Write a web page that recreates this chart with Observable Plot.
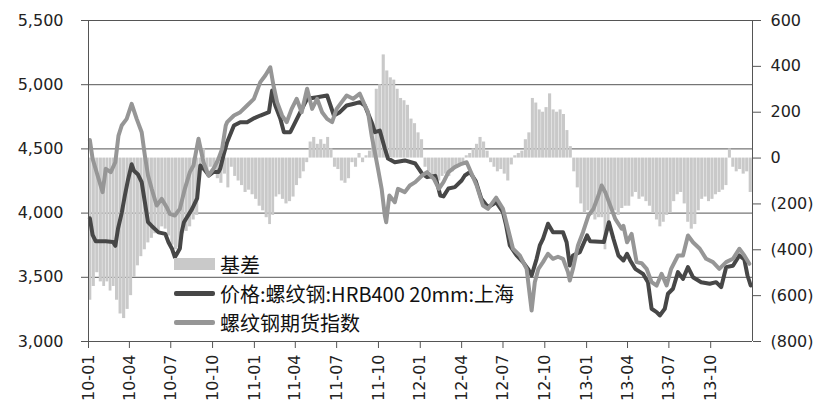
<!DOCTYPE html>
<html>
<head>
<meta charset="utf-8">
<script src="https://cdn.jsdelivr.net/npm/d3@7"></script>
<script src="https://cdn.jsdelivr.net/npm/@observablehq/plot@0.6"></script>
<style>
  html, body { margin: 0; padding: 0; background: #fff; }
  #wrap { position: relative; width: 828px; height: 419px; }
  #legend { position: absolute; left: 0; top: 0; font-family: "Noto Sans CJK SC", "DejaVu Sans", sans-serif; font-size: 20px; color: #111; }
  .row { position: absolute; left: 174px; height: 24px; display: flex; align-items: center; white-space: nowrap; }
  .sw { width: 41px; margin-right: 5px; }
</style>
</head>
<body>
<div id="wrap"><div id="legend"></div></div>
<script>
// ---- Data ----
const priceDates = ["2010-01-04","2010-01-10","2010-01-17","2010-02-08","2010-02-24","2010-03-01","2010-03-07","2010-03-15","2010-03-22","2010-03-29","2010-04-06","2010-04-11","2010-04-20","2010-04-28","2010-05-05","2010-05-12","2010-05-20","2010-06-04","2010-06-19","2010-06-26","2010-07-04","2010-07-10","2010-07-14","2010-07-21","2010-07-25","2010-07-30","2010-08-17","2010-08-28","2010-09-04","2010-09-13","2010-09-23","2010-10-03","2010-10-14","2010-10-18","2010-10-25","2010-11-02","2010-11-17","2010-12-01","2010-12-16","2011-01-01","2011-01-14","2011-02-02","2011-02-09","2011-02-16","2011-02-27","2011-03-07","2011-03-21","2011-04-01","2011-04-12","2011-04-27","2011-05-19","2011-06-10","2011-06-25","2011-07-08","2011-07-23","2011-08-06","2011-08-21","2011-09-01","2011-09-16","2011-09-23","2011-10-04","2011-10-15","2011-10-22","2011-11-06","2011-11-28","2011-12-21","2012-01-05","2012-01-16","2012-02-03","2012-02-14","2012-02-21","2012-03-03","2012-03-17","2012-04-01","2012-04-08","2012-04-19","2012-05-02","2012-05-14","2012-05-29","2012-06-16","2012-07-01","2012-07-08","2012-07-16","2012-07-31","2012-08-14","2012-08-25","2012-09-02","2012-09-13","2012-09-20","2012-09-27","2012-10-08","2012-10-19","2012-11-10","2012-11-18","2012-11-25","2012-12-02","2012-12-17","2013-01-02","2013-01-09","2013-02-08","2013-02-19","2013-03-01","2013-03-12","2013-03-23","2013-03-31","2013-04-07","2013-04-18","2013-05-05","2013-05-16","2013-05-24","2013-06-04","2013-06-11","2013-06-22","2013-06-29","2013-07-10","2013-07-21","2013-08-01","2013-08-12","2013-08-23","2013-09-10","2013-09-29","2013-10-13","2013-10-24","2013-11-04","2013-11-19","2013-12-03","2013-12-14","2013-12-21","2013-12-28"];
const priceValues = [3960,3830,3780,3780,3775,3745,3880,4000,4137,4260,4380,4330,4300,4241,4085,3929,3900,3850,3838,3773,3720,3657,3680,3724,3850,3929,4033,4114,4371,4340,4293,4320,4320,4347,4450,4552,4682,4708,4708,4740,4760,4786,4955,4838,4737,4630,4630,4708,4786,4890,4903,4916,4760,4786,4838,4850,4864,4838,4708,4630,4643,4503,4425,4396,4410,4386,4308,4280,4290,4137,4130,4192,4202,4254,4293,4319,4250,4114,4046,4085,4007,3903,3748,3670,3618,3566,3514,3644,3748,3800,3917,3851,3851,3773,3592,3670,3696,3826,3780,3775,3929,3800,3670,3631,3683,3631,3566,3527,3462,3255,3229,3203,3255,3372,3411,3540,3488,3579,3501,3462,3450,3462,3423,3579,3590,3670,3640,3514,3436];

const futuresDates = ["2010-01-04","2010-01-10","2010-01-21","2010-02-01","2010-02-08","2010-02-19","2010-03-01","2010-03-08","2010-03-15","2010-03-26","2010-04-06","2010-04-17","2010-04-28","2010-05-05","2010-05-12","2010-05-20","2010-05-31","2010-06-11","2010-06-22","2010-06-29","2010-07-10","2010-07-21","2010-08-01","2010-08-12","2010-08-20","2010-08-31","2010-09-11","2010-09-22","2010-10-03","2010-10-14","2010-10-22","2010-10-30","2010-11-02","2010-11-17","2010-12-01","2010-12-16","2010-12-31","2011-01-14","2011-01-25","2011-02-05","2011-02-12","2011-02-20","2011-03-03","2011-03-13","2011-03-24","2011-04-04","2011-04-15","2011-04-27","2011-05-08","2011-05-19","2011-05-30","2011-06-10","2011-06-21","2011-07-01","2011-07-12","2011-07-23","2011-08-06","2011-08-21","2011-09-01","2011-09-08","2011-09-16","2011-09-23","2011-09-30","2011-10-08","2011-10-15","2011-10-18","2011-10-25","2011-11-06","2011-11-13","2011-11-28","2011-12-09","2011-12-21","2012-01-05","2012-01-16","2012-01-31","2012-02-11","2012-02-21","2012-03-03","2012-03-17","2012-04-01","2012-04-12","2012-04-23","2012-05-04","2012-05-18","2012-05-29","2012-06-16","2012-07-01","2012-07-12","2012-07-23","2012-08-07","2012-08-22","2012-08-29","2012-09-02","2012-09-09","2012-09-17","2012-09-27","2012-10-08","2012-10-19","2012-10-30","2012-11-10","2012-11-21","2012-11-25","2012-12-02","2012-12-13","2012-12-24","2013-01-05","2013-01-16","2013-01-27","2013-02-03","2013-02-11","2013-02-22","2013-03-05","2013-03-19","2013-03-23","2013-03-31","2013-04-10","2013-04-21","2013-05-02","2013-05-13","2013-05-24","2013-06-04","2013-06-15","2013-06-26","2013-07-06","2013-07-21","2013-08-01","2013-08-12","2013-08-23","2013-09-07","2013-09-21","2013-10-06","2013-10-20","2013-11-04","2013-11-19","2013-12-03","2013-12-14","2013-12-25"];
const futuresValues = [4570,4423,4293,4163,4345,4319,4396,4604,4682,4734,4851,4734,4630,4449,4293,4189,4059,4111,4046,3994,3981,4033,4189,4319,4371,4579,4396,4293,4345,4423,4500,4682,4708,4760,4786,4838,4890,5020,5072,5136,4994,4864,4760,4708,4812,4890,4786,4968,4812,4890,4786,4734,4708,4812,4864,4916,4890,4930,4840,4786,4604,4474,4345,4189,3981,3929,4137,4085,4189,4163,4215,4241,4293,4319,4267,4189,4241,4319,4358,4384,4396,4306,4215,4059,4033,4120,4033,3878,3722,3670,3566,3358,3241,3462,3566,3618,3683,3644,3660,3644,3540,3475,3566,3748,3851,3981,4033,4137,4215,4163,4059,3955,3878,3900,3773,3838,3618,3610,3566,3462,3436,3527,3436,3566,3670,3670,3826,3773,3722,3644,3618,3566,3618,3644,3722,3670,3605];

// Basis (基差), four readings per month, Jan 2010 .. Dec 2013
const basisMonths = ["2010-01","2010-02","2010-03","2010-04","2010-05","2010-06","2010-07","2010-08","2010-09","2010-10","2010-11","2010-12","2011-01","2011-02","2011-03","2011-04","2011-05","2011-06","2011-07","2011-08","2011-09","2011-10","2011-11","2011-12","2012-01","2012-02","2012-03","2012-04","2012-05","2012-06","2012-07","2012-08","2012-09","2012-10","2012-11","2012-12","2013-01","2013-02","2013-03","2013-04","2013-05","2013-06","2013-07","2013-08","2013-09","2013-10","2013-11","2013-12"];
const basisValues = [
  -620,-560,-500,-540, -560,-540,-580,-560, -620,-680,-700,-660, -600,-520,-470,-430,
  -400,-370,-350,-330, -320,-300,-310,-340, -380,-400,-390,-330, -320,-300,-270,-250,
  -30,40,-60,-40, -60,-90,-110,-70, -130,-40,-80,-100, -120,-150,-140,-160,
  -180,-210,-230,-260, -290,-250,-170,-160, -180,-200,-190,-170, -120,-90,-60,-20,
  70,90,60,80, 60,90,40,-40, -50,-100,-110,-90, -20,-40,20,-20,
  10,30,150,300, 320,450,380,350, 340,300,260,250, 230,170,150,110,
  80,-40,-60,-80, -90,-100,-80,-70, -80,-60,-40,-30, -30,10,20,40,
  60,90,70,30, -20,-40,-60,-50, -70,-100,-30,10, 20,30,80,110,
  260,240,210,200, 220,280,210,200, 210,190,120,50, -60,-130,-200,-240,
  -230,-250,-270,-260, -260,-400,-320,-230, -230,-250,-220,-210, -210,-170,-150,-180,
  -170,-190,-210,-240, -270,-300,-280,-250, -240,-190,-160,-150, -200,-280,-310,-290,
  -230,-180,-170,-190, -180,-160,-150,-140, -120,40,-40,-60, -50,-70,-60,-150
];

const xTickLabels = ["10-01","10-04","10-07","10-10","11-01","11-04","11-07","11-10","12-01","12-04","12-07","12-10","13-01","13-04","13-07","13-10"];
const leftTicks = [3000,3500,4000,4500,5000,5500];
const rightTicks = [-800,-600,-400,-200,0,200,400,600];
const seriesNames = ["基差","价格:螺纹钢:HRB400 20mm:上海","螺纹钢期货指数"];

// ---- Build tables ----
const parse = d3.utcParse("%Y-%m-%d");
const price = priceDates.map((d,i) => ({date: parse(d), v: priceValues[i]}));
const futures = futuresDates.map((d,i) => ({date: parse(d), v: futuresValues[i]}));

// right-axis (basis) values mapped onto the left-axis domain
const L0 = 3000, L1 = 5500, R0 = -800, R1 = 600;
const toL = b => L0 + (b - R0) * (L1 - L0) / (R1 - R0);
const fromL = v => R0 + (v - L0) * (R1 - R0) / (L1 - L0);

const basis = [];
basisMonths.forEach((m, mi) => {
  const start = parse(m + "-01");
  const end = d3.utcMonth.offset(start, 1);
  for (let k = 0; k < 4; k++) {
    const b = basisValues[mi*4 + k];
    basis.push({
      d1: new Date(+start + (end - start) * k / 4),
      d2: new Date(+start + (end - start) * (k + 1) / 4),
      y1: toL(0), y2: toL(b)
    });
  }
});

const xTicks = xTickLabels.map(s => parse("20" + s + "-01"));
const fmtRight = v => { const b = Math.round(fromL(v)); return b < 0 ? `(${-b})` : `${b}`; };

const C_BAR = "#c9c9c9", C_PRICE = "#474747", C_FUT = "#969696", C_AXIS = "#555";
const x0 = parse("2010-01-01"), x1 = parse("2014-01-01");

const chart = Plot.plot({
  width: 828, height: 419,
  marginLeft: 88, marginRight: 76, marginTop: 20, marginBottom: 78,
  style: {fontFamily: "'DejaVu Sans', sans-serif", fontSize: "16px", color: "#222", background: "#fff", overflow: "visible"},
  x: {type: "utc", domain: [x0, x1], label: null},
  y: {domain: [L0, L1], label: null},
  marks: [
    Plot.gridY(leftTicks.slice(1), {stroke: C_AXIS, strokeOpacity: 1, strokeWidth: 1}),
    Plot.rect(basis, {x1: "d1", x2: "d2", y1: "y1", y2: "y2", fill: C_BAR, insetLeft: 0.2, insetRight: 0.2}),
    Plot.line(price, {x: "date", y: "v", stroke: C_PRICE, strokeWidth: 4, strokeLinejoin: "round"}),
    Plot.line(futures, {x: "date", y: "v", stroke: C_FUT, strokeWidth: 4, strokeLinejoin: "round"}),
    Plot.ruleX([x0, x1], {stroke: C_AXIS, strokeWidth: 1}),
    Plot.ruleY([L0], {stroke: C_AXIS, strokeWidth: 1}),
    Plot.axisY(leftTicks, {anchor: "left", tickFormat: d3.format(","), tickSize: 7, tickPadding: 18, stroke: C_AXIS, fill: "#222", label: null}),
    Plot.axisY(rightTicks.map(toL), {anchor: "right", tickFormat: fmtRight, tickSize: 8, tickPadding: 10, stroke: C_AXIS, fill: "#222", label: null}),
    Plot.axisX(xTicks, {anchor: "bottom", tickFormat: d3.utcFormat("%y-%m"), tickRotate: -90, tickSize: 7, tickPadding: 6, stroke: C_AXIS, fill: "#222", label: null})
  ]
});
document.getElementById("wrap").prepend(chart);

// ---- Legend (inside the plot area) ----
const legend = document.getElementById("legend");
const rows = [
  {name: seriesNames[0], top: 252, sw: `<div class="sw" style="height:12px;background:${C_BAR}"></div>`},
  {name: seriesNames[1], top: 281, sw: `<div class="sw" style="height:5px;border-radius:2px;background:${C_PRICE}"></div>`},
  {name: seriesNames[2], top: 310, sw: `<div class="sw" style="height:5px;border-radius:2px;background:${C_FUT}"></div>`}
];
rows.forEach(r => {
  const el = document.createElement("div");
  el.className = "row";
  el.style.top = r.top + "px";
  el.innerHTML = r.sw + `<span>${r.name}</span>`;
  legend.appendChild(el);
});
</script>
</body>
</html>
